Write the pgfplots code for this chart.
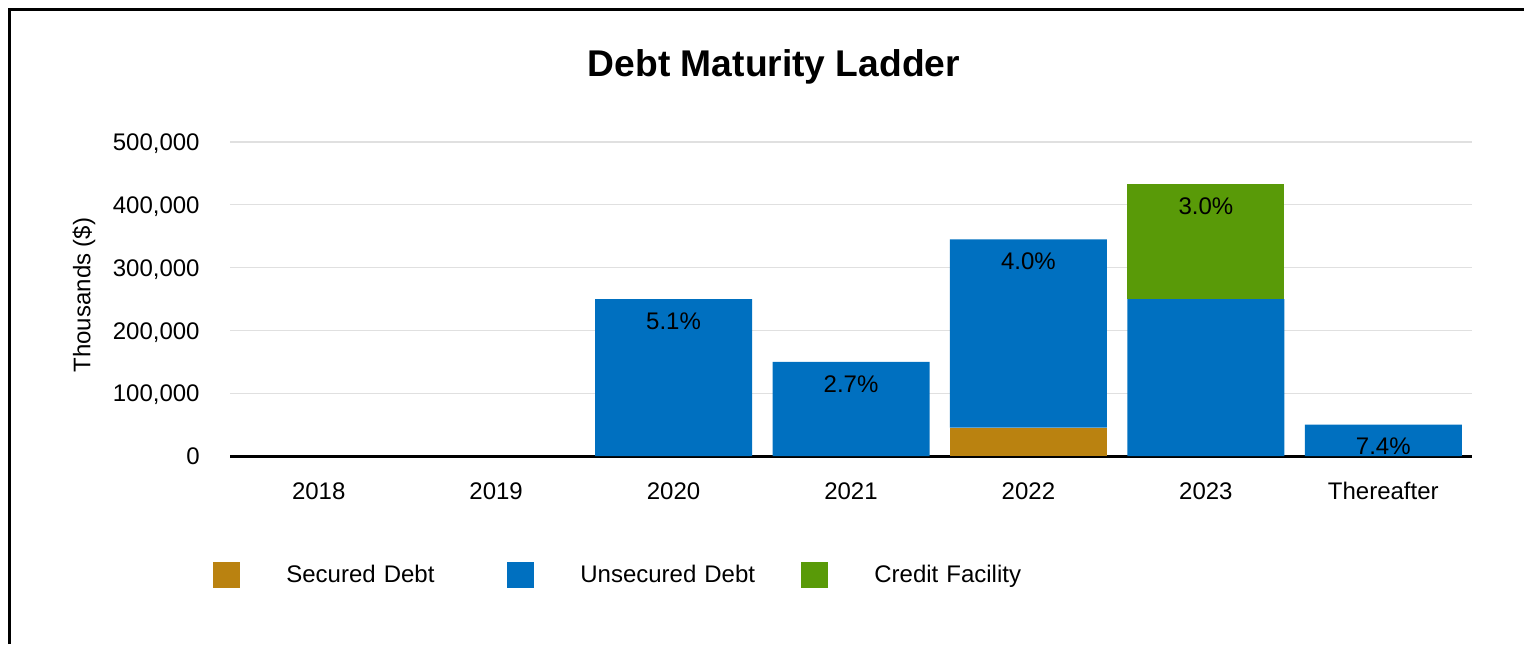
\documentclass[border=0pt]{standalone}
\usepackage{fontspec}
\setmainfont{Liberation Sans}
\usepackage{pgfplots}
\pgfplotsset{compat=1.18}
\definecolor{securedc}{RGB}{186,130,16}
\definecolor{unsecc}{RGB}{0,112,192}
\definecolor{creditc}{RGB}{89,154,8}
\definecolor{gridc}{RGB}{224,224,224}
\pgfplotsset{
    sqlegend/.style={legend image code/.code={\fill[##1] (0pt,-6.5pt) rectangle (13.5pt,6.5pt);}},
    ladderbox/.style={at={(115pt,94pt)}, anchor=south west,
        scale only axis, width=621pt, height=157pt,
        xmin=-0.5, xmax=6.5, ymin=0, ymax=500000, clip=false}
}

\begin{document}
\begin{tikzpicture}
\begin{axis}[
    ladderbox,
    ybar stacked, bar width=78.5pt,
    xtick={0,...,6},
    xticklabels={2018,2019,2020,2021,2022,2023,Thereafter},
    ytick={0,100000,200000,300000,400000,500000},
    yticklabels={0,{100,000},{200,000},{300,000},{400,000},{500,000}},
    scaled y ticks=false,
    axis line style={draw=none},
    major tick length=0pt,
    ymajorgrids,
    major grid style={gridc, line width=0.6pt},
    tick label style={font=\fontsize{12}{14}\selectfont, text=black},
    xticklabel style={anchor=north, inner sep=0pt, yshift=-13pt},
    yticklabel style={anchor=base east, inner sep=0pt, xshift=-15pt, yshift=-4.3pt},
    ylabel={Thousands (\$)},
    every axis y label/.style={at={(axis description cs:0,0.5)}, xshift=-73pt, yshift=2pt,
        rotate=90, anchor=center, font=\fontsize{12}{14}\selectfont},
    legend style={at={(-0.0137,-0.379)}, anchor=west, draw=none, fill=none,
        inner sep=0pt, legend columns=3, font=\fontsize{12}{14}\selectfont,
        nodes={inner sep=0pt, text width=110.5pt, align=left},
        /tikz/every odd column/.append style={column sep=23pt},
        /tikz/every even column/.append style={column sep=0pt}},
]
\addplot[fill=securedc, draw=none, sqlegend]
    coordinates {(0,0) (1,0) (2,0) (3,0) (4,45000) (5,0) (6,0)};
\addlegendentry{Secured Debt}
\addplot[fill=unsecc, draw=none, sqlegend]
    coordinates {(0,0) (1,0) (2,250000) (3,150000) (4,300000) (5,250000) (6,50000)};
\addlegendentry{Unsecured Debt}
\addplot[fill=creditc, draw=none, sqlegend]
    coordinates {(0,0) (1,0) (2,0) (3,0) (4,0) (5,183000) (6,0)};
\addlegendentry{Credit Facility}
\draw[black, line width=1.5pt] (axis cs:-0.5,0) -- (axis cs:6.5,0);
\end{axis}
% rate labels, just under the top of each stack
\begin{axis}[ladderbox, hide axis]
\addplot[only marks, mark=none, point meta=explicit symbolic,
    nodes near coords={\pgfplotspointmeta},
    every node near coord/.append style={anchor=center, yshift=-11pt,
        font=\fontsize{12}{14}\selectfont, text=black}]
    coordinates {(2,250000) [5.1\%] (3,150000) [2.7\%] (4,345000) [4.0\%]
                 (5,433000) [3.0\%] (6,50000) [7.4\%]};
\end{axis}
\node[anchor=base, font=\bfseries\fontsize{18.6}{22}\selectfont] at (387pt,283.5pt) {Debt Maturity Ladder};
\draw[black, line width=1.5pt] (4.75pt,0pt) -- (4.75pt,317.25pt) -- (762pt,317.25pt);
\pgfresetboundingbox
\path (0pt,0pt) rectangle (762pt,322pt);
\end{tikzpicture}
\end{document}
